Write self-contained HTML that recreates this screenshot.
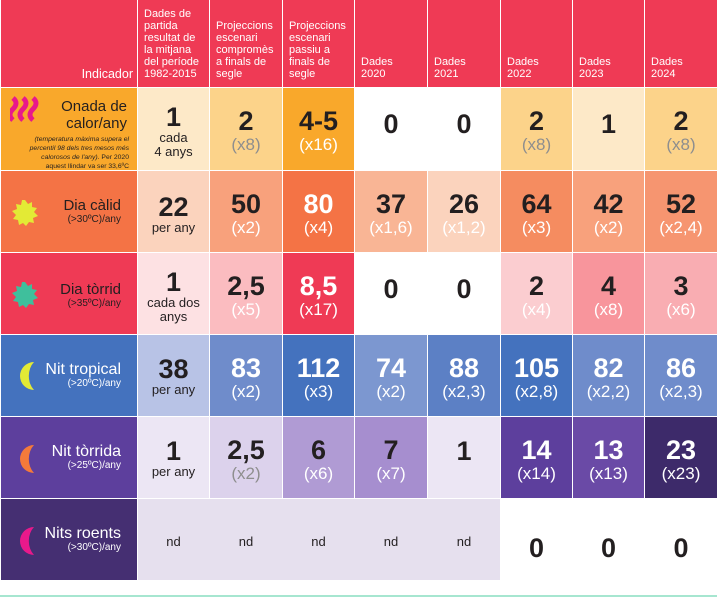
<!DOCTYPE html>
<html><head><meta charset="utf-8"><style>
*{margin:0;padding:0;box-sizing:border-box}
body{width:717px;height:597px;background:#fff;font-family:"Liberation Sans",sans-serif;position:relative;overflow:hidden}
.c{position:absolute;display:flex;flex-direction:column;align-items:center;justify-content:center;text-align:center;color:#231f20;padding-top:4px}
.n{font-weight:bold;font-size:27px;line-height:28px}
.s{font-size:17px;line-height:20px}
.t{font-size:13px;line-height:14px}
.g{color:#8e8e8e}
.w{color:#fff}
.h{position:absolute;top:0;height:87px;background:#ef3a55;color:#fff;font-size:11px;line-height:12px;padding:0 3px 7px 6px;display:flex;align-items:flex-end}
.l{position:absolute;left:1px;width:136px;color:#231f20;text-align:right;padding-right:16px}
.l .a{font-size:15px;line-height:17px}
.l .b{font-size:10px;line-height:12px}
</style></head><body>
<div class="h" style="left:1px;width:136px;justify-content:flex-end;font-size:12.5px;padding-right:4px">Indicador</div>
<div class="h" style="left:138px;width:71px">Dades de partida resultat de la mitjana del període 1982-2015</div>
<div class="h" style="left:210px;width:72px">Projeccions escenari compromès a finals de segle</div>
<div class="h" style="left:283px;width:71px">Projeccions escenari passiu a finals de segle</div>
<div class="h" style="left:355px;width:72px">Dades<br>2020</div>
<div class="h" style="left:428px;width:72px">Dades<br>2021</div>
<div class="h" style="left:501px;width:71px">Dades<br>2022</div>
<div class="h" style="left:573px;width:71px">Dades<br>2023</div>
<div class="h" style="left:645px;width:72px">Dades<br>2024</div>

<div class="l" style="top:88px;height:82px;background:#f9a82b;padding-top:10px;padding-right:8px">
<svg style="position:absolute;left:9px;top:8px" width="30" height="26"><path d="M3 2 q6 5 0 11 q-6 6 0 11 M13 2 q6 5 0 11 q-6 6 0 11 M23 2 q6 5 0 11 q-6 6 0 11" stroke="#e8198b" stroke-width="5" fill="none"/></svg>
<div class="a" style="padding-right:2px">Onada de<br>calor/any</div>
<div style="font-size:6.8px;line-height:9px;font-style:italic;margin-top:3px;padding-left:18px">(temperatura màxima supera el percentil 98 dels tres mesos més calorosos de l'any). <span style="font-style:normal">Per 2020 aquest llindar va ser 33,6ºC</span></div></div>
<div class="l" style="top:171px;height:81px;background:#f47345;padding-top:26px">
<svg style="position:absolute;left:9px;top:27px" width="30" height="30" viewBox="-15 -15 30 30"><polygon fill="#e3ea35" points="0,-13 3,-9 7,-11 7,-6 12,-5 9,-1 13,3 8,5 9,10 4,9 1,13 -2,10 -6,12 -7,7 -12,6 -9,2 -13,-2 -8,-4 -9,-9 -4,-8 -3,-13"/></svg>
<div class="a">Dia càlid</div><div class="b">(&gt;30ºC)/any</div></div>
<div class="l" style="top:253px;height:81px;background:#ef3a55;padding-top:28px">
<svg style="position:absolute;left:9px;top:27px" width="30" height="30" viewBox="-15 -15 30 30"><polygon fill="#3fbf9c" points="0,-13 3,-9 7,-11 7,-6 12,-5 9,-1 13,3 8,5 9,10 4,9 1,13 -2,10 -6,12 -7,7 -12,6 -9,2 -13,-2 -8,-4 -9,-9 -4,-8 -3,-13"/></svg>
<div class="a">Dia tòrrid</div><div class="b">(&gt;35ºC)/any</div></div>
<div class="l" style="top:335px;height:81px;background:#4472be;padding-top:26px">
<svg style="position:absolute;left:13px;top:26px" width="22" height="30"><path d="M20 1 A14 14 0 1 0 20 29 A14 18 0 0 1 20 1Z" fill="#e3ea35"/></svg>
<div class="a w" style="font-size:16px">Nit tropical</div><div class="b w">(&gt;20ºC)/any</div></div>
<div class="l" style="top:417px;height:81px;background:#5d3f9d;padding-top:26px">
<svg style="position:absolute;left:13px;top:27px" width="22" height="30"><path d="M20 1 A14 14 0 1 0 20 29 A14 18 0 0 1 20 1Z" fill="#f47a3a"/></svg>
<div class="a w" style="font-size:16px">Nit tòrrida</div><div class="b w">(&gt;25ºC)/any</div></div>
<div class="l" style="top:499px;height:81px;background:#452f72;padding-top:26px">
<svg style="position:absolute;left:13px;top:27px" width="22" height="30"><path d="M20 1 A14 14 0 1 0 20 29 A14 18 0 0 1 20 1Z" fill="#e8198b"/></svg>
<div class="a w" style="font-size:16px">Nits roents</div><div class="b w">(&gt;30ºC)/any</div></div>

<div class="c" style="left:138px;top:88px;width:71px;height:82px;background:#fde9c8"><div class="n">1</div><div class="t">cada<br>4 anys</div></div>
<div class="c" style="left:210px;top:88px;width:72px;height:82px;background:#fcd38a"><div class="n">2</div><div class="s g">(x8)</div></div>
<div class="c" style="left:283px;top:88px;width:71px;height:82px;background:#f9a82b"><div class="n">4-5</div><div class="s w">(x16)</div></div>
<div class="c" style="left:355px;top:88px;width:72px;height:82px;background:#fff;justify-content:flex-start;padding-top:22px"><div class="n">0</div></div>
<div class="c" style="left:428px;top:88px;width:72px;height:82px;background:#fff;justify-content:flex-start;padding-top:22px"><div class="n">0</div></div>
<div class="c" style="left:501px;top:88px;width:71px;height:82px;background:#fcd38a"><div class="n">2</div><div class="s g">(x8)</div></div>
<div class="c" style="left:573px;top:88px;width:71px;height:82px;background:#fde9c8;justify-content:flex-start;padding-top:22px"><div class="n">1</div></div>
<div class="c" style="left:645px;top:88px;width:72px;height:82px;background:#fcd38a"><div class="n">2</div><div class="s g">(x8)</div></div>

<div class="c" style="left:138px;top:171px;width:71px;height:81px;background:#fbd3bd;justify-content:flex-start;padding-top:22px"><div class="n">22</div><div class="t">per any</div></div>
<div class="c" style="left:210px;top:171px;width:72px;height:81px;background:#f8a17c"><div class="n">50</div><div class="s w">(x2)</div></div>
<div class="c" style="left:283px;top:171px;width:71px;height:81px;background:#f47345"><div class="n w">80</div><div class="s w">(x4)</div></div>
<div class="c" style="left:355px;top:171px;width:72px;height:81px;background:#f9b595"><div class="n">37</div><div class="s w">(x1,6)</div></div>
<div class="c" style="left:428px;top:171px;width:72px;height:81px;background:#fbd3bd"><div class="n">26</div><div class="s w">(x1,2)</div></div>
<div class="c" style="left:501px;top:171px;width:71px;height:81px;background:#f58c60"><div class="n">64</div><div class="s w">(x3)</div></div>
<div class="c" style="left:573px;top:171px;width:71px;height:81px;background:#f8a17c"><div class="n">42</div><div class="s w">(x2)</div></div>
<div class="c" style="left:645px;top:171px;width:72px;height:81px;background:#f69570"><div class="n">52</div><div class="s w">(x2,4)</div></div>

<div class="c" style="left:138px;top:253px;width:71px;height:81px;background:#fde1e3"><div class="n">1</div><div class="t">cada dos<br>anys</div></div>
<div class="c" style="left:210px;top:253px;width:72px;height:81px;background:#fbbcc0"><div class="n">2,5</div><div class="s w">(x5)</div></div>
<div class="c" style="left:283px;top:253px;width:71px;height:81px;background:#ef3a55"><div class="n w">8,5</div><div class="s w">(x17)</div></div>
<div class="c" style="left:355px;top:253px;width:72px;height:81px;background:#fff;justify-content:flex-start;padding-top:22px"><div class="n">0</div></div>
<div class="c" style="left:428px;top:253px;width:72px;height:81px;background:#fff;justify-content:flex-start;padding-top:22px"><div class="n">0</div></div>
<div class="c" style="left:501px;top:253px;width:71px;height:81px;background:#fbcdd0"><div class="n">2</div><div class="s w">(x4)</div></div>
<div class="c" style="left:573px;top:253px;width:71px;height:81px;background:#f8959c"><div class="n">4</div><div class="s w">(x8)</div></div>
<div class="c" style="left:645px;top:253px;width:72px;height:81px;background:#f9adb2"><div class="n">3</div><div class="s w">(x6)</div></div>

<div class="c" style="left:138px;top:335px;width:71px;height:81px;background:#b8c3e6;justify-content:flex-start;padding-top:20px"><div class="n">38</div><div class="t">per any</div></div>
<div class="c" style="left:210px;top:335px;width:72px;height:81px;background:#6f8ccb"><div class="n w">83</div><div class="s w">(x2)</div></div>
<div class="c" style="left:283px;top:335px;width:71px;height:81px;background:#4472be"><div class="n w">112</div><div class="s w">(x3)</div></div>
<div class="c" style="left:355px;top:335px;width:72px;height:81px;background:#7c97d0"><div class="n w">74</div><div class="s w">(x2)</div></div>
<div class="c" style="left:428px;top:335px;width:72px;height:81px;background:#5c80c5"><div class="n w">88</div><div class="s w">(x2,3)</div></div>
<div class="c" style="left:501px;top:335px;width:71px;height:81px;background:#4472be"><div class="n w">105</div><div class="s w">(x2,8)</div></div>
<div class="c" style="left:573px;top:335px;width:71px;height:81px;background:#6f8ccb"><div class="n w">82</div><div class="s w">(x2,2)</div></div>
<div class="c" style="left:645px;top:335px;width:72px;height:81px;background:#6f8ccb"><div class="n w">86</div><div class="s w">(x2,3)</div></div>

<div class="c" style="left:138px;top:417px;width:71px;height:81px;background:#ece6f4;justify-content:flex-start;padding-top:20px"><div class="n">1</div><div class="t">per any</div></div>
<div class="c" style="left:210px;top:417px;width:72px;height:81px;background:#dcd2ec"><div class="n">2,5</div><div class="s g">(x2)</div></div>
<div class="c" style="left:283px;top:417px;width:71px;height:81px;background:#b09bd4"><div class="n">6</div><div class="s w">(x6)</div></div>
<div class="c" style="left:355px;top:417px;width:72px;height:81px;background:#a68ecf"><div class="n">7</div><div class="s w">(x7)</div></div>
<div class="c" style="left:428px;top:417px;width:72px;height:81px;background:#ece6f4;justify-content:flex-start;padding-top:20px"><div class="n">1</div></div>
<div class="c" style="left:501px;top:417px;width:71px;height:81px;background:#5d3f9d"><div class="n w">14</div><div class="s w">(x14)</div></div>
<div class="c" style="left:573px;top:417px;width:71px;height:81px;background:#6a4aa6"><div class="n w">13</div><div class="s w">(x13)</div></div>
<div class="c" style="left:645px;top:417px;width:72px;height:81px;background:#3d2a6a"><div class="n w">23</div><div class="s w">(x23)</div></div>

<div style="position:absolute;left:138px;top:499px;width:362px;height:81px;background:#e6e0ee"></div>
<div class="c t" style="left:138px;top:499px;width:71px;height:81px">nd</div>
<div class="c t" style="left:210px;top:499px;width:72px;height:81px">nd</div>
<div class="c t" style="left:283px;top:499px;width:71px;height:81px">nd</div>
<div class="c t" style="left:355px;top:499px;width:72px;height:81px">nd</div>
<div class="c t" style="left:428px;top:499px;width:72px;height:81px">nd</div>
<div class="c" style="left:501px;top:505px;width:71px;height:81px"><div class="n">0</div></div>
<div class="c" style="left:573px;top:505px;width:71px;height:81px"><div class="n">0</div></div>
<div class="c" style="left:645px;top:505px;width:72px;height:81px"><div class="n">0</div></div>
<div style="position:absolute;left:0;top:595px;width:717px;height:2px;background:#a6e6d0"></div>
</body></html>
